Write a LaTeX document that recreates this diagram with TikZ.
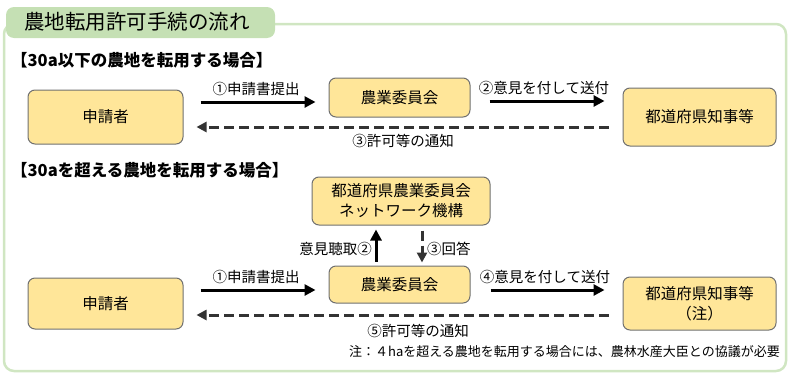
\documentclass[tikz,border=0pt]{standalone}
\usepackage{fontspec}
\setmainfont{Noto Sans CJK JP}
\usetikzlibrary{arrows.meta,calc}
\definecolor{boxfill}{HTML}{FFE699}
\definecolor{boxline}{HTML}{707070}
\definecolor{tabfill}{HTML}{C5E0B4}
\definecolor{frameline}{HTML}{D0E6C2}
\definecolor{dashcol}{HTML}{333333}
\tikzset{
  box/.style={draw=boxline, line width=1pt, fill=boxfill, rounded corners=7pt, align=center, font=\fontsize{15.5}{20}\selectfont, inner sep=0pt},
  arr/.style={line width=3pt, -{Triangle[length=11pt,width=11pt]}, black},
  darr/.style={line width=3pt, dashcol, dash pattern=on 10pt off 5pt, -{Triangle[length=10pt,width=10pt]}},
  lbl/.style={font=\fontsize{14.5}{17}\selectfont, inner sep=0pt},
  head/.style={font=\fontsize{16.5}{19}\selectfont\bfseries, anchor=west, inner sep=0pt},
}
\begin{document}
\begin{tikzpicture}[x=1pt,y=-1pt]
\useasboundingbox (0,0) rectangle (791,380);
% frame
\draw[frameline, line width=2.5pt, rounded corners=10pt] (4,24) rectangle (786,371);
\node[fill=tabfill, rounded corners=8pt, minimum width=269pt, minimum height=31pt, inner sep=0pt] (tab) at (140.5,22.5) {};
\node[anchor=west, inner sep=0pt, font=\fontsize{20.5}{23}\selectfont] (title) at (24,22) {農地転用許可手続の流れ};
% headings
\node[head] (h1) at (11,60) {【30a以下の農地を転用する場合】};
\node[head] (h2) at (11,170) {【30aを超える農地を転用する場合】};
% top boxes
\node[box, minimum width=155pt, minimum height=54pt] (s1) at (105.5,117) {申請者};
\node[box, minimum width=141pt, minimum height=39pt] (n1) at (399.5,97.5) {農業委員会};
\node[box, minimum width=153pt, minimum height=58pt] (g1) at (699.5,117) {都道府県知事等};
% bottom boxes
\node[box, minimum width=178pt, minimum height=48pt] (net) at (401,201) {都道府県農業委員会\\ネットワーク機構};
\node[box, minimum width=141pt, minimum height=37pt] (n2) at (399.5,284.5) {農業委員会};
\node[box, minimum width=155pt, minimum height=51pt] (s2) at (105.5,303.5) {申請者};
\node[box, minimum width=153pt, minimum height=53pt] (g2) at (699.5,303.5) {都道府県知事等\\（注）};
% top arrows
\coordinate (a1s) at ($(s1.east)+(17,-15)$);
\coordinate (a1e) at ($(n1.west)+(-13,4.5)$);
\draw[arr] (a1s) -- (a1e);
\node[lbl] (l1) at (256,89) {①申請書提出};
\coordinate (a2s) at ($(n1.east)+(19,3.5)$);
\coordinate (a2e) at ($(g1.west)+(-18,-16)$);
\draw[arr] (a2s) -- (a2e);
\node[lbl] (l2) at (544,88) {②意見を付して送付};
\coordinate (a3s) at ($(g1.west)+(-14,10)$);
\coordinate (a3e) at ($(s1.east)+(13,10)$);
\draw[darr] (a3s) -- (a3e);
\node[lbl] (l3) at (403,141) {③許可等の通知};
% bottom arrows
\coordinate (u1s) at ($(n2.north)+(-23.5,-4)$);
\coordinate (u1e) at ($(net.south)+(-25,4)$);
\draw[arr] (u1s) -- (u1e);
\node[lbl, anchor=east] (lu) at (372,249) {意見聴取②};
\coordinate (d1s) at ($(net.south)+(21,5)$);
\coordinate (d1e) at ($(n2.north)+(22.5,-3)$);
\draw[darr] (d1s) -- (d1e);
\node[lbl, anchor=west] (ld) at (427,249) {③回答};
\coordinate (b1s) at ($(s2.east)+(17,-13.5)$);
\coordinate (b1e) at ($(n2.west)+(-13,5.5)$);
\draw[arr] (b1s) -- (b1e);
\node[lbl] (l4) at (256,277) {①申請書提出};
\coordinate (b2s) at ($(n2.east)+(20,5.5)$);
\coordinate (b2e) at ($(g2.west)+(-18,-13.5)$);
\draw[arr] (b2s) -- (b2e);
\node[lbl] (l5) at (545,277) {④意見を付して送付};
\coordinate (b3s) at ($(g2.west)+(-14,11.5)$);
\coordinate (b3e) at ($(s2.east)+(13,11.5)$);
\draw[darr] (b3s) -- (b3e);
\node[lbl] (l6) at (418,331) {⑤許可等の通知};
\node[anchor=east, inner sep=0pt, font=\fontsize{13}{15}\selectfont] (note) at (780,352) {注：４haを超える農地を転用する場合には、農林水産大臣との協議が必要};
\end{tikzpicture}
\end{document}
